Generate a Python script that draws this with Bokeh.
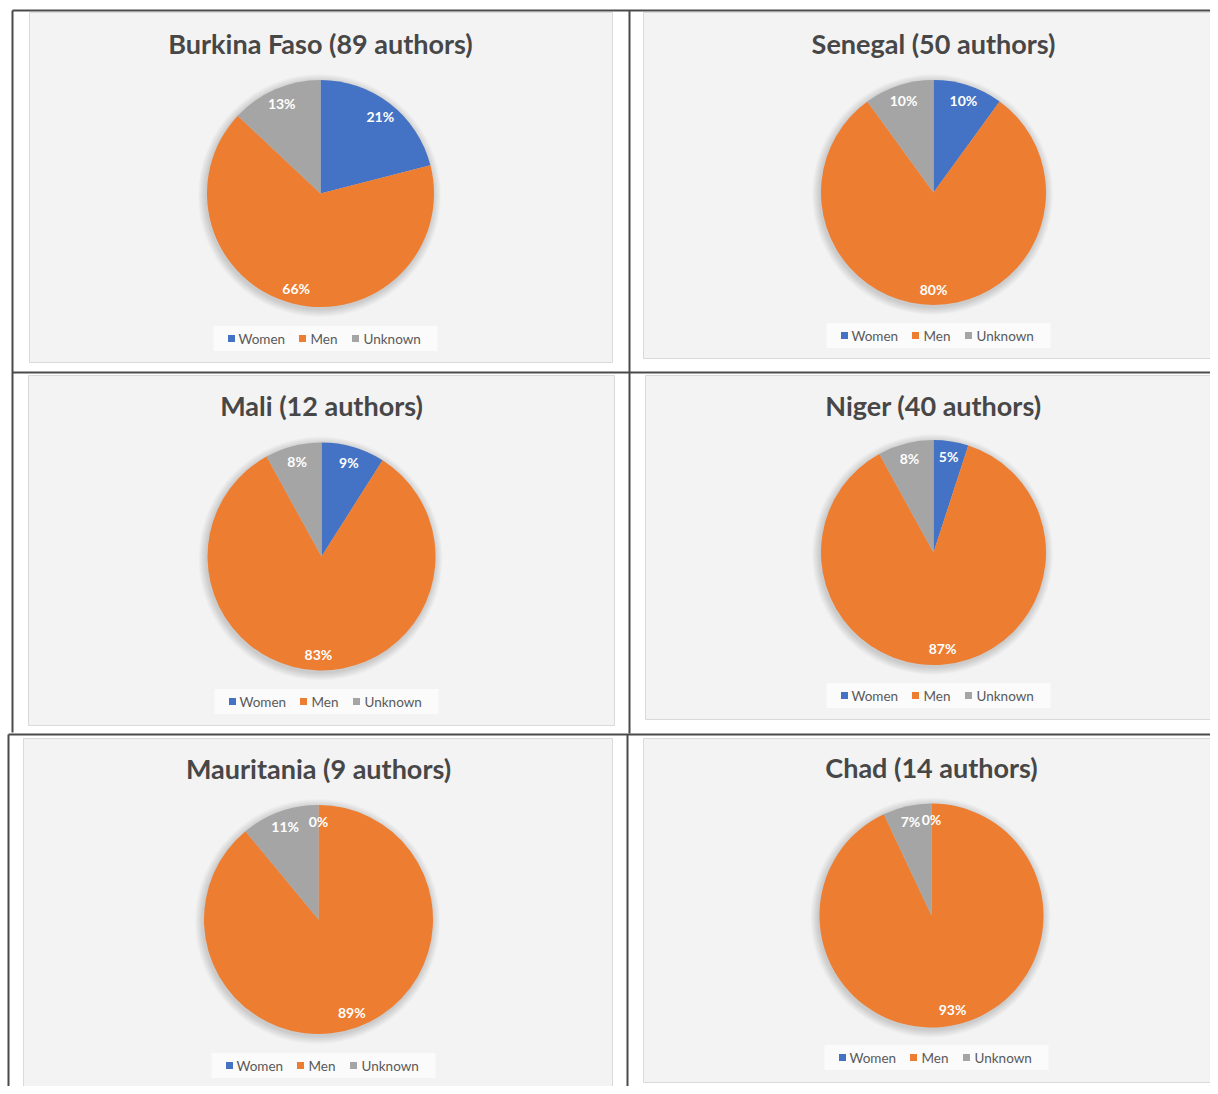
import numpy as np
from bokeh.plotting import figure
from bokeh.models import Range1d, ColumnDataSource
from bokeh.core.properties import value
from bokeh.embed import file_html
from bokeh.resources import INLINE

# ---------------- data ----------------
countries = ["Burkina Faso", "Senegal", "Mali", "Niger", "Mauritania", "Chad"]
authors = [89, 50, 12, 40, 9, 14]
categories = ["Women", "Men", "Unknown"]
women_pct = [21, 10, 9, 5, 0, 0]
men_pct = [66, 80, 83, 87, 89, 93]
unknown_pct = [13, 10, 8, 8, 11, 7]

# ---------------- styles ----------------
colors = ["#4472C4", "#ED7D31", "#A5A5A5"]
FONT = "Lato"
TITLE_COLOR = "#474747"
LEGEND_COLOR = "#595959"

# ---------------- layout (reference pixel coordinates) ----------------
pie_cx = [320, 933, 321, 933, 318, 931]
pie_cy = [193, 192, 556, 552, 919, 915]
pie_r = [113.5, 112.5, 114, 112.5, 114.5, 112]
title_y = [43, 43, 405, 405, 768, 767]
legend_y = [338, 335, 701, 695, 1065, 1057]
box_left = [29, 643, 28, 645, 23, 643]
box_right = [612, 1240, 614, 1240, 612, 1240]
box_top = [12, 12, 375, 375, 738, 738]
box_bottom = [362, 358, 725, 719, 1089, 1082]

W, H = 1210, 1086


def Y(y):
    return H - y


p = figure(width=W, height=H, x_range=Range1d(0, W), y_range=Range1d(0, H),
           output_backend="svg", toolbar_location=None, min_border=0,
           background_fill_color="white", border_fill_color="white")
p.axis.visible = False
p.grid.visible = False
p.outline_line_color = None

# chart area boxes
p.quad(left=box_left, right=box_right, top=[Y(v) for v in box_top],
       bottom=[Y(v) for v in box_bottom], fill_color="#f3f3f3",
       line_color="#d9d9d9", line_width=1)

# table lines
seg_x0 = [12, 12, 629, 12, 8, 8, 627]
seg_y0 = [10, 10, 10, 372, 734, 734, 734]
seg_x1 = [1240, 12, 629, 1240, 1240, 8, 627]
seg_y1 = [10, 732, 733, 372, 734, 1100, 1100]
p.segment(x0=seg_x0, y0=[Y(v) for v in seg_y0], x1=seg_x1, y1=[Y(v) for v in seg_y1],
          line_color="#4a4a4a", line_width=2)

values_by_cat = [women_pct, men_pct, unknown_pct]

for i, country in enumerate(countries):
    cx, cy, r = pie_cx[i], Y(pie_cy[i]), pie_r[i]
    vals = np.array([values_by_cat[k][i] for k in range(3)], dtype=float)
    frac = vals / vals.sum()
    cum1 = np.cumsum(frac)
    cum0 = cum1 - frac

    # soft shadow
    for k in range(1, 9):
        p.circle(x=[cx - 1], y=[cy - 2], radius=r + k, fill_color="black",
                 fill_alpha=0.018, line_color=None)

    # slices (clockwise from 12 o'clock)
    keep = vals > 0
    src = ColumnDataSource(dict(
        start=(np.pi / 2 - 2 * np.pi * cum1)[keep],
        end=(np.pi / 2 - 2 * np.pi * cum0)[keep],
        color=[c for c, kp in zip(colors, keep) if kp],
    ))
    p.wedge(x=cx, y=cy, radius=r, start_angle="start", end_angle="end",
            direction="anticlock", fill_color="color", line_color=None, source=src)

    # data labels
    mid = 2 * np.pi * (cum0 + cum1) / 2
    lr = 0.86 * r
    lx = cx + lr * np.sin(mid)
    ly = cy + lr * np.cos(mid)
    p.text(x=lx, y=ly, text=[f"{int(v)}%" for v in vals], text_color="white",
           text_font=value(FONT), text_font_style="bold", text_font_size="14px",
           text_align="center", text_baseline="middle")

    # title
    p.text(x=[pie_cx[i]], y=[Y(title_y[i])], text=[f"{country} ({authors[i]} authors)"],
           text_color=TITLE_COLOR, text_font=value(FONT), text_font_style="bold",
           text_font_size="27px", text_align="center", text_baseline="middle")

    # legend
    ly0 = Y(legend_y[i])
    lx0 = pie_cx[i]
    p.rect(x=[lx0 + 5], y=[ly0], width=224, height=25, fill_color="white",
           fill_alpha=0.65, line_color=None)
    sq_dx = [-89, -18, 35]
    txt_dx = [-82, -10, 43]
    p.rect(x=[lx0 + d for d in sq_dx], y=[ly0] * 3, width=7, height=7,
           fill_color=colors, line_color=None)
    p.text(x=[lx0 + d for d in txt_dx], y=[ly0] * 3, text=categories,
           text_color=LEGEND_COLOR, text_font=value(FONT), text_font_size="13.5px",
           text_align="left", text_baseline="middle")

open("out.html", "w").write(file_html(p, INLINE))
